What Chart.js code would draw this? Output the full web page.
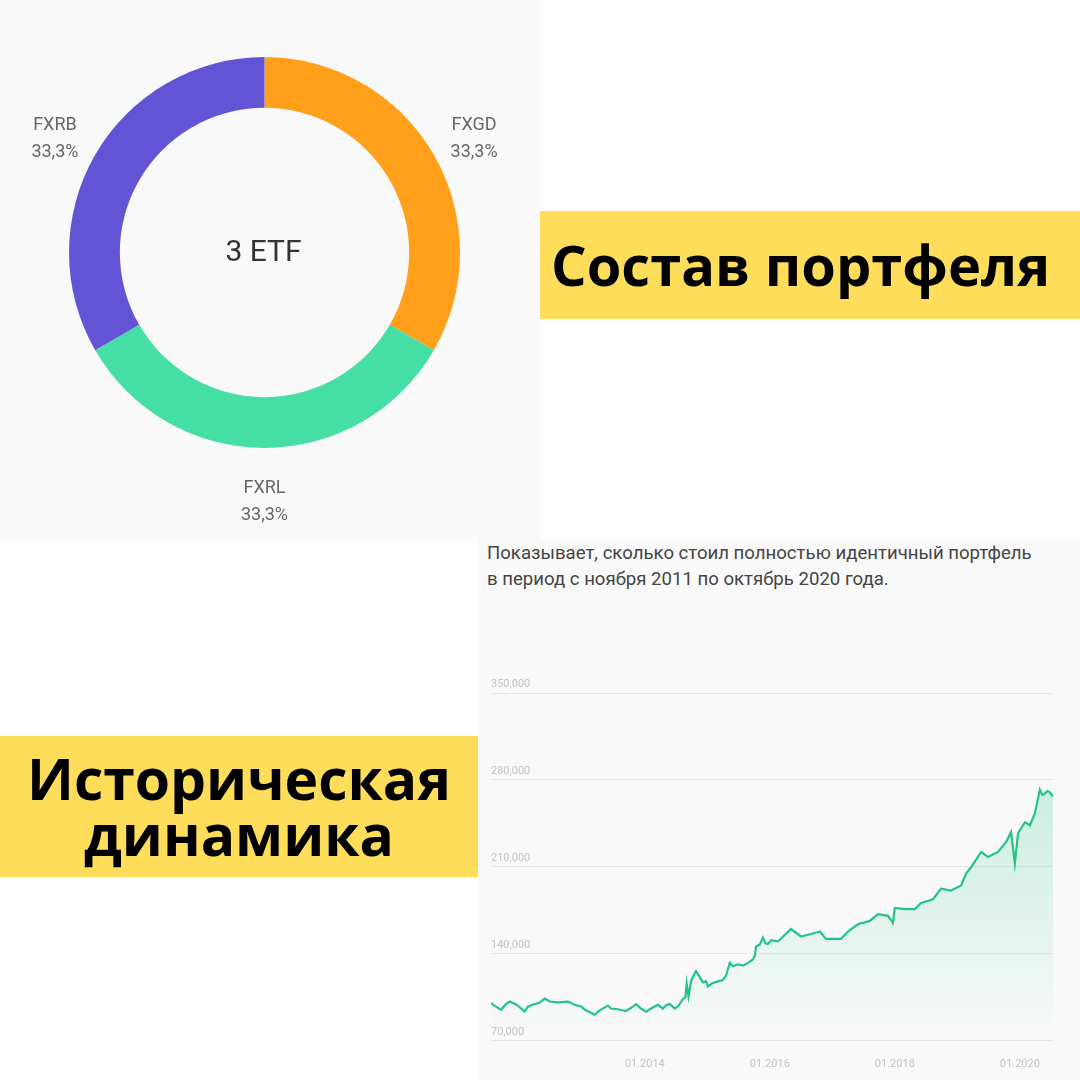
<!DOCTYPE html>
<html>
<head>
<meta charset="utf-8">
<script src="https://cdn.jsdelivr.net/npm/chart.js@4.4.0/dist/chart.umd.min.js"></script>
<style>
    body { margin: 0; width: 1080px; height: 1080px; background: #fff; position: relative; overflow: hidden; font-family: Roboto, sans-serif; }
    .panel { position: absolute; background: #f9f9f9; }
    .panel canvas { position: absolute; left: 0; top: 0; }
    .tag { position: absolute; background: #fedd5b; font-family: "Open Sans", sans-serif; font-weight: 700; color: #000; white-space: nowrap; }
    .note { position: absolute; left: 9px; top: 0; font-size: 18.6px; line-height: 26px; color: #444; white-space: nowrap; }
</style>
</head>
<body>
<div class="panel" style="left:0;top:0;width:540px;height:540px">
    <canvas id="donut" width="540" height="540"></canvas>
</div>
<div class="tag" style="left:540px;top:211px;width:540px;height:108px;font-size:56px;line-height:106px;padding-left:11px;box-sizing:border-box">Состав портфеля</div>
<div class="tag" style="left:0;top:736px;width:478px;height:141px;font-size:57px;line-height:56px;text-align:center;padding-top:14px;box-sizing:border-box">Историческая<br>динамика</div>
<div class="panel" style="left:478px;top:540px;width:602px;height:540px">
    <div class="note">Показывает, сколько стоил полностью идентичный портфель<br>в период с ноября 2011 по октябрь 2020 года.</div>
    <canvas id="history" width="602" height="560"></canvas>
</div>

<script>
// Portfolio composition
const etfNames = ['FXGD', 'FXRL', 'FXRB'];
const etfShares = [33.3, 33.3, 33.3];
const etfColors = ['#ff9f1a', '#45dea5', '#6254d4'];

// Historical value (x in years, y in rubles)
const historyYears = [
    2011.54, 2011.62, 2011.70, 2011.78, 2011.84, 2011.95, 2012.08, 2012.13, 2012.20, 2012.31,
    2012.40, 2012.48, 2012.61, 2012.77, 2012.88, 2012.99, 2013.04, 2013.14, 2013.20, 2013.28,
    2013.41, 2013.46, 2013.57, 2013.70, 2013.81, 2013.86, 2013.94, 2014.02, 2014.10, 2014.21,
    2014.29, 2014.35, 2014.40, 2014.48, 2014.54, 2014.61, 2014.65, 2014.67, 2014.70, 2014.74,
    2014.78, 2014.82, 2014.87, 2014.93, 2014.98, 2015.01, 2015.09, 2015.17, 2015.25, 2015.30,
    2015.36, 2015.41, 2015.49, 2015.57, 2015.65, 2015.73, 2015.76, 2015.78, 2015.84, 2015.89,
    2015.93, 2015.97, 2016.02, 2016.13, 2016.34, 2016.50, 2016.66, 2016.80, 2016.90, 2017.14,
    2017.25, 2017.41, 2017.60, 2017.73, 2017.89, 2017.97, 2018.00, 2018.16, 2018.32, 2018.42,
    2018.61, 2018.74, 2018.90, 2019.06, 2019.14, 2019.22, 2019.38, 2019.49, 2019.65, 2019.78,
    2019.86, 2019.92, 2019.97, 2020.08, 2020.16, 2020.24, 2020.32, 2020.36, 2020.40, 2020.44,
    2020.48, 2020.53
];
const historyValues = [
    100200, 97500, 95000, 99500, 101600, 99000, 93500, 97500, 99000, 100500,
    104000, 101600, 101000, 101600, 99000, 97500, 95000, 92500, 91000, 94500,
    98400, 96000, 95400, 94000, 97500, 99500, 96000, 93500, 96000, 99000,
    96000, 98900, 99600, 96000, 98400, 103500, 105000, 116000, 105600, 117800,
    122500, 126000, 122000, 117000, 118000, 113800, 116500, 117800, 119000, 122500,
    132700, 130000, 131600, 130500, 132700, 135500, 138500, 146000, 147500, 153000,
    148500, 148000, 151000, 150000, 160000, 154000, 156000, 158000, 152000, 152000,
    158000, 163800, 166500, 172000, 170600, 165000, 177000, 176000, 176000, 181000,
    184000, 192500, 191000, 195000, 204600, 209700, 222000, 218000, 222000, 230000,
    238000, 212700, 237000, 246000, 243500, 253000, 272000, 268000, 269000, 271000,
    270000, 266500
];
const yearTicks = [2014, 2016, 2018, 2020];
const valueMin = 70000;
const valueMax = 350000;
const valueStep = 70000;

Chart.defaults.font.family = 'Roboto, sans-serif';
Chart.defaults.animation = false;

// labels round the ring and the count in the middle
const donutLabels = {
    id: 'donutLabels',
    afterDraw(chart) {
        const ctx = chart.ctx;
        const meta = chart.getDatasetMeta(0);
        const total = etfShares.reduce((a, b) => a + b, 0);
        ctx.save();
        ctx.textAlign = 'center';
        ctx.textBaseline = 'middle';
        meta.data.forEach((arc, i) => {
            const mid = (arc.startAngle + arc.endAngle) / 2;
            const r = arc.outerRadius + 46.5;
            const x = arc.x + Math.cos(mid) * r;
            const y = arc.y + Math.sin(mid) * r + 7;
            const pct = (etfShares[i] / total * 100).toFixed(1).replace('.', ',') + '%';
            ctx.fillStyle = '#666';
            ctx.font = '18px Roboto';
            ctx.fillText(etfNames[i], x, y - 13.5);
            ctx.fillText(pct, x, y + 13.5);
        });
        const c = meta.data[0];
        ctx.fillStyle = '#333';
        ctx.font = '30px Roboto';
        ctx.fillText(etfNames.length + ' ETF', c.x - 1, c.y + 1);
        ctx.restore();
    }
};

new Chart(document.getElementById('donut'), {
    type: 'doughnut',
    data: {
        labels: etfNames,
        datasets: [{
            data: etfShares,
            backgroundColor: etfColors,
            borderWidth: 0
        }]
    },
    options: {
        responsive: false,
        cutout: '74%',
        layout: { padding: { left: 69, top: 57, right: 80, bottom: 92 } },
        plugins: { legend: { display: false }, tooltip: { enabled: false } }
    },
    plugins: [donutLabels]
});

new Chart(document.getElementById('history'), {
    type: 'line',
    data: {
        datasets: [{
            data: historyYears.map((x, i) => ({ x: x, y: historyValues[i] })),
            borderColor: '#22c486',
            borderWidth: 2.2,
            pointRadius: 0,
            tension: 0,
            fill: 'start',
            backgroundColor: (c) => {
                const area = c.chart.chartArea;
                if (!area) return 'rgba(39, 200, 139, 0.1)';
                const g = c.chart.ctx.createLinearGradient(0, area.top + 90, 0, area.bottom);
                g.addColorStop(0, 'rgba(39, 200, 139, 0.22)');
                g.addColorStop(1, 'rgba(39, 200, 139, 0)');
                return g;
            }
        }]
    },
    options: {
        responsive: false,
        layout: { padding: { left: 13, right: 27, top: 153, bottom: 12 } },
        plugins: { legend: { display: false }, tooltip: { enabled: false } },
        scales: {
            x: {
                type: 'linear',
                min: historyYears[0],
                max: historyYears[historyYears.length - 1],
                afterBuildTicks: (axis) => { axis.ticks = yearTicks.map(v => ({ value: v })); },
                grid: { display: false, drawTicks: false },
                border: { display: false },
                ticks: {
                    padding: 17,
                    maxRotation: 0,
                    color: '#c2c2c2',
                    font: { size: 11 },
                    callback: (v) => '01.' + v
                }
            },
            y: {
                min: valueMin,
                max: valueMax,
                grid: { color: '#e6e6e6', drawTicks: false },
                border: { display: false },
                ticks: {
                    stepSize: valueStep,
                    mirror: true,
                    padding: 0,
                    labelOffset: -9,
                    color: '#c2c2c2',
                    font: { size: 11 },
                    callback: (v) => v.toLocaleString('en-US')
                }
            }
        }
    }
});
</script>
</body>
</html>
